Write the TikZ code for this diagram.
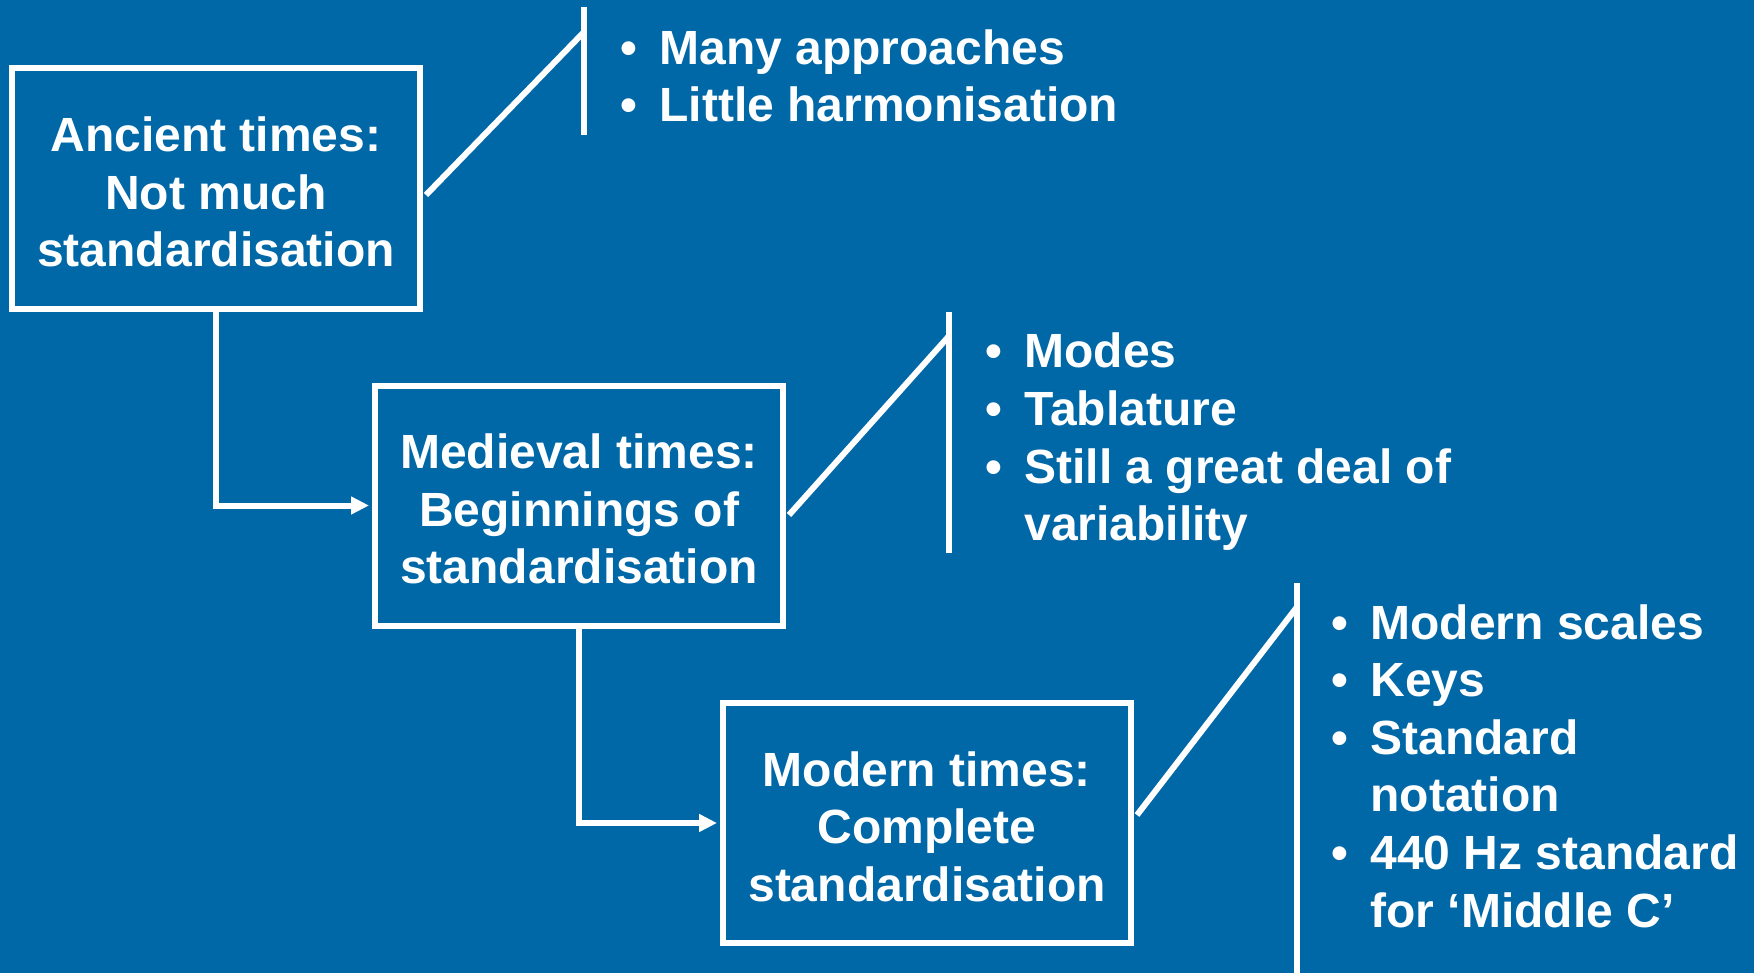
\documentclass[tikz,border=0pt]{standalone}
\usepackage{fontspec}
\setmainfont{Liberation Sans}
\usetikzlibrary{arrows.meta}
\definecolor{bg}{RGB}{1,104,168}
\newcommand\bul{\makebox[19.5pt][l]{•}}
\newcommand\toppad{\rule{0pt}{20.8pt}}
\begin{document}
\begin{tikzpicture}[x=0.5pt,y=-0.5pt,
  every node/.style={text=white,font=\bfseries\fontsize{24}{28.75}\selectfont},
  stage/.style={draw=white,line width=3pt,minimum width=204pt,minimum height=120pt,inner sep=0pt,align=center},
  wline/.style={draw=white,line width=3pt},
  arr/.style={wline,-{Triangle[length=9pt,width=8.5pt]}},
  item/.style={anchor=base west,inner sep=0pt}]
\fill[bg] (0,0) rectangle (1754,973);
\useasboundingbox (0,0) rectangle (1754,973);
% stages
\node[stage] (b1) at (216,188.5) {\toppad Ancient times:\\Not much\\standardisation};
\node[stage] (b2) at (579,505.5) {\toppad Medieval times:\\Beginnings of\\standardisation};
\node[stage] (b3) at (927,823) {\toppad Modern times:\\Complete\\standardisation};
% arrows
\draw[arr] (b1.south) |- ([xshift=-1.5pt]b2.west);
\draw[arr] (b2.south) |- ([xshift=-1.5pt]b3.west);
% brackets
\coordinate (v1a) at (584,7);
\coordinate (v1b) at (584,135);
\coordinate (t1) at (584,32);
\draw[wline] (v1a) -- (v1b);
\draw[wline] (b1.east) ++(3,6.5) -- (t1);
\coordinate (v2a) at (949,312);
\coordinate (v2b) at (949,553);
\coordinate (t2) at (949,336);
\draw[wline] (v2a) -- (v2b);
\draw[wline] (b2.east) ++(3,9.5) -- (t2);
\coordinate (v3a) at (1297,583);
\coordinate (v3b) at (1297,973);
\coordinate (t3) at (1297,607);
\draw[wline] (v3a) -- (v3b);
\draw[wline] (b3.east) ++(3,-8) -- (t3);
% list 1
\node[item] (l1a) at (620,65) {\bul Many approaches};
\node[item] (l1b) at (620,122) {\bul Little harmonisation};
% list 2
\node[item] (l2a) at (985,367) {\bul Modes};
\node[item] (l2b) at (985,425) {\bul Tablature};
\node[item] (l2c) at (985,483) {\bul Still a great deal of};
\node[item] (l2d) at (1024,540) {variability};
% list 3
\node[item] (l3a) at (1331,639) {\bul Modern scales};
\node[item] (l3b) at (1331,696) {\bul Keys};
\node[item] (l3c) at (1331,754) {\bul Standard};
\node[item] (l3d) at (1370,811) {notation};
\node[item] (l3e) at (1331,869) {\bul 440 Hz standard};
\node[item] (l3f) at (1370,927) {for ‘Middle C’};
\end{tikzpicture}
\end{document}
